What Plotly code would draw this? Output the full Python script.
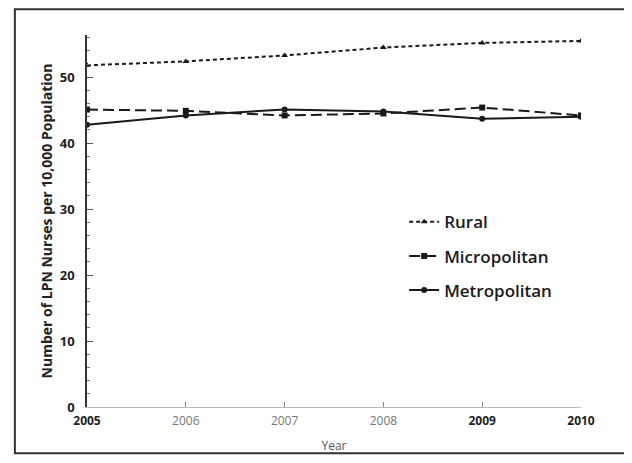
import plotly.graph_objects as go

years = [2005, 2006, 2007, 2008, 2009, 2010]
year_labels = ["<b>2005</b>", "<span style='color:#777'>2006</span>",
               "<span style='color:#777'>2007</span>", "<span style='color:#777'>2008</span>",
               "<b>2009</b>", "<b>2010</b>"]
rural = [51.8, 52.4, 53.3, 54.5, 55.2, 55.5]
micropolitan = [45.1, 44.9, 44.2, 44.5, 45.4, 44.2]
metropolitan = [42.8, 44.2, 45.1, 44.8, 43.7, 44.0]

fig = go.Figure()

fig.add_trace(go.Scatter(
    x=years, y=rural, name="Rural", mode="lines+markers", legendgroup="r",
    line=dict(color="#1a1a1a", width=2, dash="4px,3px"),
    marker=dict(symbol="triangle-up", size=6, color="#1a1a1a")
))
fig.add_trace(go.Scatter(
    x=years, y=micropolitan, name="Micropolitan", mode="lines+markers", legendgroup="mi",
    line=dict(color="#1a1a1a", width=2, dash="11px,5px"),
    marker=dict(symbol="square", size=6, color="#1a1a1a")
))
fig.add_trace(go.Scatter(
    x=years, y=metropolitan, name="Metropolitan", mode="lines+markers", legendgroup="me",
    line=dict(color="#1a1a1a", width=2),
    marker=dict(symbol="circle", size=6, color="#1a1a1a")
))

# outer frame around the whole picture
fig.add_shape(
    type="rect", xref="paper", yref="paper",
    x0=-0.146, x1=1.099, y0=-0.124, y1=1.069,
    line=dict(color="#333333", width=2)
)

fig.update_layout(
    template="plotly_white",
    width=624,
    height=455,
    margin=dict(l=79, r=51, t=27, b=50),
    font=dict(family="Open Sans", color="#222222"),
    showlegend=True,
    legend=dict(
        x=0.642, y=0.545, xanchor="left", yanchor="top",
        font=dict(size=17, color="#1a1a1a", weight=600),
        bgcolor="rgba(0,0,0,0)",
        tracegroupgap=9
    ),
    plot_bgcolor="white",
    paper_bgcolor="white"
)

fig.update_xaxes(
    range=[2005, 2010],
    tickvals=years,
    ticktext=year_labels,
    ticks="inside",
    ticklen=5,
    tickcolor="#888888",
    showgrid=False,
    zeroline=False,
    showline=True,
    linecolor="#bbbbbb",
    linewidth=1,
    ticklabelstandoff=3,
    tickfont=dict(size=12, color="#222222"),
    title=dict(text="Year", font=dict(size=12, color="#555555"), standoff=13)
)

fig.update_yaxes(
    range=[0, 56.4],
    tickvals=[0, 10, 20, 30, 40, 50],
    ticks="inside",
    ticklen=6,
    tickcolor="#555555",
    minor=dict(dtick=2, ticks="inside", ticklen=3, tickcolor="#777777"),
    showgrid=False,
    zeroline=False,
    showline=True,
    linecolor="#333333",
    linewidth=1.5,
    ticklabelstandoff=8,
    tickfont=dict(size=13, color="#222222", weight="bold"),
    title=dict(
        text="Number of LPN Nurses per 10,000 Population",
        font=dict(size=14, color="#222222", weight="bold"),
        standoff=4
    )
)

fig.write_html("out.html")
